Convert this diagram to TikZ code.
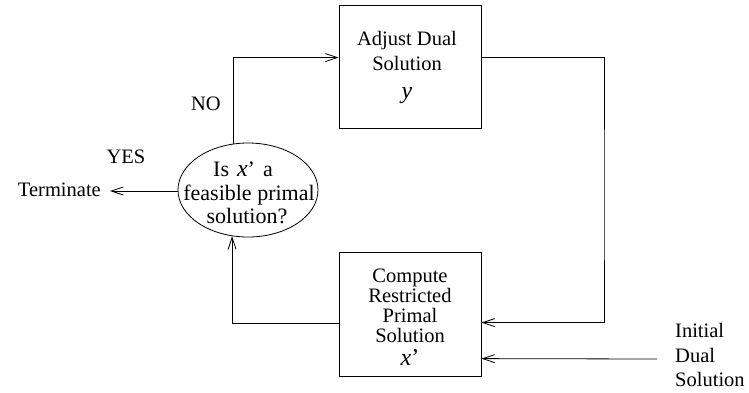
\documentclass[tikz,border=0pt]{standalone}
\usepackage{fontspec}
\setmainfont{Liberation Serif}
\usetikzlibrary{arrows.meta,calc,shapes.geometric}
\begin{document}
\begin{tikzpicture}[x=1pt,y=-1pt,
  every node/.style={font=\fontsize{20.5}{22}\selectfont, inner sep=0pt},
  txt/.style={anchor=base},
  big/.style={anchor=base, font=\fontsize{22}{24}\selectfont},
  proc/.style={draw, line width=0.8pt, minimum width=142pt, inner sep=0pt},
  link/.style={line width=0.8pt, -{Straight Barb[length=12pt,width=8pt]}},
  var/.style={anchor=base, font=\fontsize{24}{26}\selectfont\itshape}]
\useasboundingbox (0,0) rectangle (749,392);

% processing boxes
\node[proc, minimum height=123pt] (adj) at (410,66.5) {};
\node[proc, minimum height=124pt] (cmp) at (410,314) {};

\node[txt] (a1) at (407,45) {Adjust Dual};
\node[txt] (a2) at (407,70) {Solution};
\node[var] (a3) at (407,98) {y};

\node[txt] (c1) at (410,282) {Compute};
\node[txt] (c2) at (410,302) {Restricted};
\node[txt] (c3) at (410,322) {Primal};
\node[txt] (c4) at (410,342) {Solution};
\node[var] (c5) at (410,365) {x\upshape'};

% decision
\node[ellipse, draw, line width=0.8pt, minimum width=140pt, minimum height=94pt] (q) at (248,190) {};
\node[big] (q1) at (243,176) {Is\hspace{8pt}\textit{\fontsize{24}{26}\selectfont x}'\hspace{8pt}a};
\node[big] (q2) at (249,200) {feasible primal};
\node[big] (q3) at (247,223) {solution?};

% free labels
\node[anchor=base east] (term) at (101,196) {Terminate};
\node[txt] (yes) at (126,163) {YES};
\node[txt] (no) at (206,110) {NO};
\node[anchor=base west] (i1) at (675,337) {Initial};
\node[anchor=base west] (i2) at (675,362) {Dual};
\node[anchor=base west] (i3) at (675,386) {Solution};

% connectors
\coordinate (adjin) at ($(adj.north west)+(0,53)$);
\coordinate (adjout) at ($(adj.north east)+(0,53)$);
\coordinate (cmpin) at ($(cmp.north west)+(0,72)$);
\coordinate (cmpr) at ($(cmp.north east)+(0,71)$);
\coordinate (cmpi) at ($(cmp.north east)+(0,107)$);
\coordinate (init) at (657,359);
\coordinate (termtip) at (110,191);

\draw[link] (q.108.1) |- (adjin);
\draw[link] (adjout) -| (604,200) |- (cmpr);
\draw[link] (cmpin) -| (q.251.9);
\draw[link] (init) -- (cmpi);
\draw[link] (q.west |- termtip) -- (termtip);
\end{tikzpicture}
\end{document}
